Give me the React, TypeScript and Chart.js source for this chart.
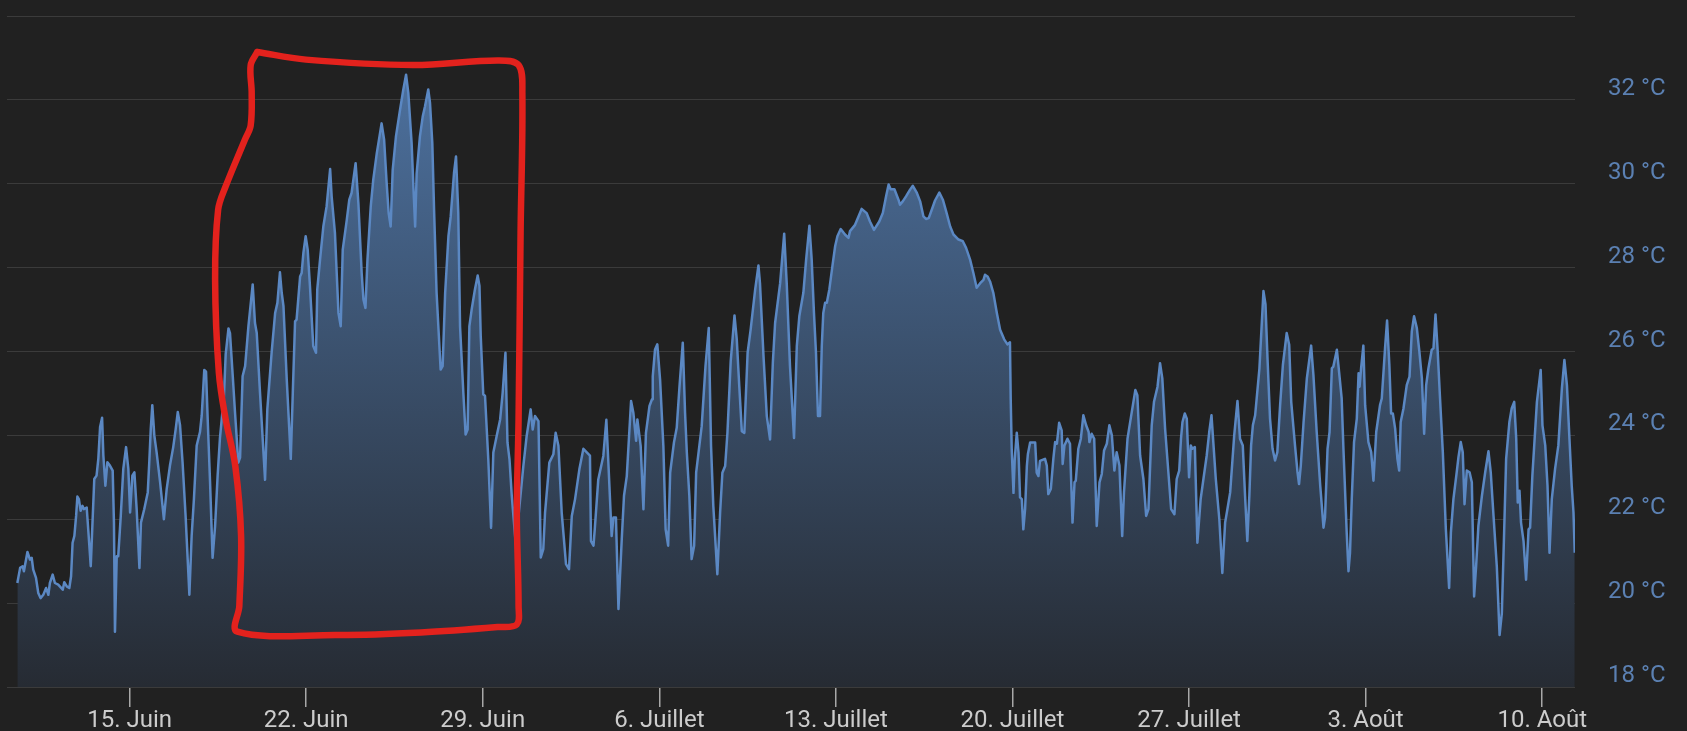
import React, { useEffect, useRef } from "react";
import { Chart, registerables } from "chart.js";

Chart.register(...registerables);

// x = day counted from 1 June (15 = 15 June, 36 = 6 July, 64 = 3 August)
const dayValues = [
  10.55, 10.66, 10.76, 10.81, 10.95, 11.05, 11.12, 11.18, 11.29, 11.38, 11.47, 11.58, 11.69, 11.78, 11.84, 11.95,
  12.04, 12.17, 12.35, 12.41, 12.51, 12.61, 12.68, 12.74, 12.81, 12.88, 12.93, 12.99, 13.06, 13.13, 13.19, 13.3,
  13.36, 13.46, 13.54, 13.6, 13.69, 13.76, 13.83, 13.91, 13.96, 14.04, 14.12, 14.22, 14.33, 14.38, 14.42, 14.49,
  14.55, 14.65, 14.75, 14.86, 14.95, 15.02, 15.11, 15.19, 15.28, 15.39, 15.45, 15.58, 15.72, 15.78, 15.84, 15.9,
  15.98, 16.07, 16.21, 16.36, 16.47, 16.6, 16.73, 16.83, 16.91, 17.0, 17.1, 17.22, 17.37, 17.46, 17.55, 17.66,
  17.79, 17.86, 17.96, 18.03, 18.1, 18.19, 18.29, 18.39, 18.49, 18.58, 18.74, 18.81, 18.92,
  18.98, 19.09, 19.18, 19.31, 19.38, 19.48, 19.58, 19.71, 19.88, 19.97, 20.04, 20.17, 20.37, 20.46, 20.63, 20.77,
  20.86, 20.96, 21.03, 21.1, 21.23, 21.39, 21.47, 21.56, 21.62, 21.76, 21.82, 21.89, 21.98, 22.06, 22.15, 22.28,
  22.39, 22.44, 22.55, 22.68, 22.81, 22.95, 23.01, 23.14, 23.28, 23.37, 23.45, 23.61, 23.71, 23.8, 23.96, 24.07,
  24.2, 24.27, 24.35, 24.43, 24.56, 24.66, 24.8, 24.99, 25.09, 25.19, 25.27, 25.35, 25.43, 25.56, 25.72, 25.85,
  25.96, 26.05, 26.18, 26.25, 26.32, 26.38, 26.51, 26.62, 26.71, 26.84, 26.91, 27.0, 27.07, 27.17, 27.33, 27.41,
  27.51, 27.64, 27.73, 27.86, 27.94, 28.03, 28.1, 28.23, 28.32, 28.4, 28.47, 28.56, 28.69, 28.8, 28.87, 28.92,
  29.02, 29.09, 29.22, 29.33, 29.42, 29.55, 29.69, 29.79, 29.9, 29.98, 30.06, 30.15, 30.31,
  30.61, 30.74, 30.9, 30.98, 31.07, 31.21, 31.3, 31.4, 31.47, 31.64, 31.8, 31.89, 32.0, 32.13, 32.3, 32.42,
  32.53, 32.66, 32.83, 32.99, 33.25, 33.29, 33.39, 33.44, 33.58, 33.78, 33.9, 33.98, 34.11, 34.18, 34.28, 34.38,
  34.51, 34.6, 34.71, 34.88, 34.97, 35.08, 35.13, 35.26, 35.37, 35.47, 35.61, 35.71, 35.74, 35.83, 35.92, 36.03,
  36.16, 36.25, 36.35, 36.43, 36.58, 36.69, 36.8, 36.93, 37.02, 37.09, 37.19, 37.28, 37.38, 37.46, 37.68, 37.83,
  37.96, 38.05, 38.14, 38.3, 38.41, 38.5, 38.61, 38.7, 38.83, 38.98, 39.07, 39.17, 39.27, 39.37, 39.5, 39.62,
  39.8, 39.93, 39.99, 40.13, 40.26, 40.39, 40.5, 40.59, 40.79, 40.95, 41.05, 41.18, 41.34, 41.45, 41.55, 41.71,
  41.82, 41.95, 42.04, 42.13, 42.21, 42.29,
  42.37, 42.44, 42.5, 42.57, 42.64, 42.74, 42.86, 42.97, 43.06, 43.19, 43.36, 43.5, 43.56, 43.76, 44.02, 44.22,
  44.35, 44.51, 44.72, 44.86, 44.99, 45.09, 45.17, 45.32, 45.48, 45.54, 45.65, 45.78, 45.94, 46.05, 46.21, 46.34,
  46.47, 46.57, 46.68, 46.8, 46.93, 47.1, 47.24, 47.39, 47.53, 47.66, 47.86, 48.03, 48.16, 48.32, 48.45, 48.58,
  48.72, 48.85, 48.91, 49.01, 49.11, 49.24, 49.38, 49.51, 49.67, 49.8, 49.9, 49.93, 49.97, 50.04, 50.09, 50.17,
  50.24, 50.3, 50.37, 50.43, 50.5, 50.57, 50.61, 50.7, 50.9, 50.96, 51.03, 51.09,
  51.29, 51.36, 51.42, 51.52, 51.62, 51.69, 51.76, 51.85, 51.95, 51.99, 52.06, 52.18, 52.28, 52.38, 52.46, 52.51,
  52.61, 52.71, 52.81, 52.92, 53.02, 53.05, 53.14, 53.24, 53.34, 53.45, 53.54, 53.63, 53.74, 53.84, 53.94, 54.04,
  54.13, 54.24, 54.35, 54.42, 54.56, 54.73, 54.87, 54.95, 55.06, 55.19, 55.3, 55.39, 55.52, 55.61, 55.75, 55.85,
  55.94, 56.05, 56.18, 56.29, 56.42, 56.51, 56.61, 56.68, 56.74, 56.83, 56.91, 57.0, 57.07, 57.13, 57.23, 57.33,
  57.46, 57.57, 57.7, 57.8, 57.89, 57.97, 58.06, 58.2, 58.32, 58.43, 58.52, 58.63, 58.79, 58.92, 59.02, 59.13,
  59.22, 59.31, 59.39, 59.46, 59.53, 59.62, 59.79, 59.95, 60.03, 60.11, 60.21, 60.31, 60.41, 60.5, 60.61, 60.72,
  60.87, 60.97, 61.05, 61.2, 61.3, 61.36, 61.43, 61.54, 61.67,
  61.84, 61.93, 62.06, 62.2, 62.33, 62.39, 62.49, 62.57, 62.66, 62.72, 62.86, 62.92, 63.05, 63.12, 63.25, 63.32,
  63.38, 63.45, 63.54, 63.65, 63.72, 63.76, 63.82, 63.91, 63.98, 64.11, 64.22, 64.31, 64.42, 64.57, 64.64, 64.77,
  64.85, 64.94, 65.01, 65.08, 65.17, 65.26, 65.33, 65.39, 65.5, 65.63, 65.74, 65.83, 65.92, 66.03, 66.13, 66.23,
  66.32, 66.4, 66.49, 66.62, 66.69, 66.77, 66.85, 66.95, 67.06, 67.18, 67.31, 67.38, 67.48, 67.61, 67.68, 67.77,
  67.85, 67.92, 68.01, 68.12, 68.21, 68.3, 68.38, 68.47, 68.61, 68.74, 68.87, 68.96, 69.07, 69.2, 69.31, 69.4,
  69.49, 69.57, 69.7, 69.79, 69.89, 69.97, 70.03, 70.1, 70.16, 70.26, 70.36, 70.46, 70.52, 70.61, 70.79, 70.94,
  71.01, 71.12, 71.21, 71.29, 71.38, 71.51, 71.64, 71.78, 71.88, 71.98, 72.08, 72.17, 72.24, 72.29,
];

// temperature in °C, one value per entry of dayValues
const tempValues = [
  20.48, 20.84, 20.88, 20.76, 21.22, 21.04, 21.08, 20.8, 20.6, 20.24, 20.12, 20.2, 20.36, 20.2, 20.48, 20.68,
  20.48, 20.44, 20.32, 20.5, 20.4, 20.36, 20.64, 21.44, 21.6, 22.08, 22.54, 22.48, 22.2, 22.32, 22.24, 22.28,
  21.76, 20.88, 22.08, 22.96, 23.04, 23.44, 24.2, 24.42, 23.52, 22.8, 23.36, 23.28, 23.16, 21.92, 19.32, 21.12,
  21.12, 22.08, 23.2, 23.72, 23.2, 22.16, 23.04, 23.12, 22.24, 20.84, 21.92, 22.24, 22.64, 23.36, 24.16, 24.72,
  24.0, 23.6, 22.88, 22.0, 22.72, 23.28, 23.72, 24.16, 24.56, 24.24, 23.36, 22.08, 20.2, 21.6, 22.48, 23.76,
  24.08, 24.48, 25.56, 25.52, 24.32, 22.88, 21.08, 21.84, 23.04, 23.92, 24.94, 25.94, 26.55,
  26.44, 25.41, 24.54, 23.35, 23.47, 25.41, 25.65, 26.6, 27.6, 26.68, 26.44, 25.02, 22.94, 24.62, 25.97, 26.92,
  27.16, 27.89, 27.4, 27.08, 25.33, 23.44, 25.02, 26.72, 26.76, 27.79, 27.87, 28.35, 28.75, 28.43, 27.56, 26.13,
  25.97, 27.48, 28.19, 28.98, 29.46, 30.35, 29.7, 28.83, 26.92, 26.6, 28.43, 29.14, 29.62, 29.78, 30.49, 29.54,
  27.87, 27.24, 27.04, 28.19, 29.46, 30.1, 30.73, 31.44, 31.05, 30.02, 29.3, 28.98, 30.33, 31.13, 31.76, 32.24,
  32.6, 32.16, 30.97, 29.94, 28.98, 30.25, 31.13, 31.6, 31.84, 32.25, 31.92, 30.97, 29.38, 27.4, 25.57, 25.65,
  27.4, 28.75, 29.22, 30.25, 30.65, 29.3, 26.6, 25.02, 24.02, 24.14, 26.6, 27.0, 27.48, 27.81, 27.56, 26.37,
  24.98, 24.94, 23.43, 21.8, 23.59, 23.98, 24.38, 25.02, 25.97, 23.83, 23.43, 22.56, 21.4,
  23.27, 23.98, 24.62, 24.14, 24.46, 24.34, 21.09, 21.29, 22.16, 23.35, 23.55, 24.06, 23.75, 22.16, 20.93, 20.81,
  22.08, 22.48, 23.19, 23.68, 23.52, 21.48, 21.37, 21.76, 22.95, 23.51, 24.37, 23.35, 21.6, 22.04, 22.04, 19.86,
  21.52, 22.56, 23.03, 24.82, 24.54, 23.87, 24.38, 23.75, 22.24, 24.06, 24.7, 24.86, 25.41, 26.05, 26.17, 25.33,
  23.75, 21.76, 21.37, 23.11, 23.83, 24.18, 25.17, 26.21, 24.54, 23.59, 22.56, 21.05, 21.37, 23.11, 24.22, 25.65,
  26.56, 23.75, 22.32, 20.69, 22.16, 23.11, 23.27, 24.06, 25.77, 26.86, 26.29, 25.17, 24.1, 24.06, 25.97, 26.52,
  27.48, 28.05, 27.63, 25.89, 24.46, 23.9, 25.73, 26.68, 27.63, 28.81, 27.63, 25.65, 23.94, 26.13, 26.84, 27.4,
  28.19, 29.0, 28.19, 26.92, 25.97, 24.46,
  24.46, 26.13, 26.92, 27.16, 27.16, 27.48, 28.03, 28.51, 28.75, 28.92, 28.79, 28.71, 28.87, 29.02, 29.4, 29.3,
  29.1, 28.9, 29.1, 29.3, 29.7, 29.98, 29.87, 29.87, 29.62, 29.5, 29.58, 29.7, 29.86, 29.95, 29.78, 29.58,
  29.22, 29.16, 29.18, 29.38, 29.6, 29.79, 29.62, 29.3, 28.98, 28.79, 28.67, 28.63, 28.47, 28.19, 27.87, 27.52,
  27.63, 27.71, 27.83, 27.79, 27.67, 27.4, 26.92, 26.52, 26.29, 26.17, 26.22, 24.86, 23.67, 22.63, 23.43, 24.06,
  23.59, 22.52, 22.48, 21.76, 22.24, 23.27, 23.55, 23.83, 23.83, 23.11, 23.03, 23.39,
  23.44, 23.28, 22.6, 22.72, 23.44, 23.84, 23.8, 24.3, 24.12, 23.32, 23.76, 23.92, 23.8, 21.92, 22.88, 22.92,
  23.68, 23.92, 24.48, 24.24, 24.08, 23.84, 24.04, 23.92, 21.84, 22.88, 23.08, 23.64, 23.8, 24.24, 24.0, 23.16,
  23.6, 23.28, 21.6, 22.64, 23.92, 24.56, 25.08, 24.96, 23.52, 22.96, 22.08, 22.24, 24.24, 24.8, 25.16, 25.72,
  25.36, 24.16, 23.12, 22.24, 22.12, 22.96, 23.16, 23.92, 24.32, 24.52, 24.4, 23.0, 23.76, 23.68, 23.72, 21.44,
  22.48, 22.96, 23.52, 24.08, 24.48, 23.76, 22.96, 22.0, 20.72, 21.92, 22.24, 22.64, 24.0, 24.82, 23.92, 23.76,
  22.56, 21.48, 22.56, 23.76, 24.24, 24.48, 25.6, 27.44, 27.12, 25.84, 24.4, 23.68, 23.4, 23.6, 24.72, 25.68,
  26.44, 26.16, 24.8, 23.76, 23.12, 22.84, 23.28, 24.32, 25.36,
  26.14, 25.44, 24.08, 22.8, 21.8, 22.04, 23.68, 24.08, 25.6, 25.64, 26.04, 25.68, 24.88, 23.68, 21.68, 20.76,
  21.2, 22.48, 23.84, 24.4, 25.48, 25.16, 25.6, 26.14, 24.72, 23.84, 23.6, 22.92, 24.08, 24.72, 24.88, 26.08,
  26.74, 25.68, 24.52, 24.52, 24.16, 23.44, 23.16, 24.32, 24.64, 25.2, 25.4, 26.48, 26.84, 26.56, 26.0, 25.36,
  24.04, 25.2, 25.6, 26.04, 26.08, 26.88, 26.08, 24.88, 23.6, 21.76, 20.36, 21.68, 22.48, 23.12, 23.48, 23.84,
  23.6, 22.36, 23.16, 23.12, 22.88, 20.16, 20.88, 21.84, 22.56, 23.12, 23.62, 23.12, 22.08, 20.88, 19.24, 19.76,
  21.68, 23.44, 24.32, 24.64, 24.8, 23.92, 22.4, 22.68, 21.92, 21.48, 20.56, 21.76, 21.8, 23.04, 24.8, 25.56,
  24.24, 23.76, 22.8, 21.2, 22.48, 23.2, 23.76, 25.12, 25.8, 25.2, 23.92, 22.8, 22.16, 21.2,
];

const tickDays = [15, 22, 29, 36, 43, 50, 57, 64, 71];
const tickLabels = [
  "15. Juin",
  "22. Juin",
  "29. Juin",
  "6. Juillet",
  "13. Juillet",
  "20. Juillet",
  "27. Juillet",
  "3. Août",
  "10. Août",
];
const yMin = 18;
const yMax = 34;
const yStep = 2;
const xMin = 10.14;
const xMax = 72.3;

// hand-drawn red outline, in the same day / °C units as the data
const outlineDays = [
  20.06, 21.99, 26.24, 29.59, 30.42, 30.57, 30.5, 30.42, 30.35, 30.42, 30.35, 29.59, 26.55, 23.21, 19.27, 19.35,
  19.42, 19.19, 18.81, 18.54, 18.39, 18.51, 18.81, 19.57, 19.8, 19.84, 19.8, 20.06,
];
const outlineTemps = [
  33.14, 32.96, 32.83, 32.94, 32.83, 32.17, 28.83, 24.38, 22.16, 19.93, 19.49, 19.43, 19.3, 19.24, 19.32, 19.93,
  21.6, 23.27, 24.38, 25.49, 27.72, 29.38, 29.94, 31.05, 31.39, 32.17, 32.83, 33.14,
];

export default function App() {
  const canvasRef = useRef<HTMLCanvasElement | null>(null);

  useEffect(() => {
    const canvas = canvasRef.current;
    if (!canvas) return;

    const series = dayValues.map((d, i) => ({ x: d, y: tempValues[i] }));
    const outline = outlineDays.map((d, i) => ({ x: d, y: outlineTemps[i] }));

    const chart = new Chart(canvas, {
      type: "line",
      data: {
        datasets: [
          {
            data: outline,
            borderColor: "#e3221d",
            borderWidth: 6.5,
            tension: 0.35,
            pointRadius: 0,
            fill: false,
            borderCapStyle: "round",
            borderJoinStyle: "round",
            order: 0,
          } as any,
          {
            data: series,
            borderColor: "#5b88c3",
            borderWidth: 2.5,
            tension: 0,
            pointRadius: 0,
            borderJoinStyle: "round",
            fill: "start",
            order: 1,
            backgroundColor: (ctx: any) => {
              const { chart: c } = ctx;
              const area = c.chartArea;
              if (!area) return "rgba(0,0,0,0)";
              const g = c.ctx.createLinearGradient(0, area.top, 0, area.bottom);
              g.addColorStop(0, "#5077a8");
              g.addColorStop(1, "#262b33");
              return g;
            },
          } as any,
        ],
      },
      options: {
        animation: false,
        responsive: true,
        maintainAspectRatio: false,
        events: [],
        layout: { padding: { left: 7, top: 16, right: 0, bottom: 0 } },
        plugins: { legend: { display: false }, tooltip: { enabled: false } },
        scales: {
          x: {
            type: "linear",
            min: xMin,
            max: xMax,
            afterBuildTicks: (scale: any) => {
              scale.ticks = tickDays.map((v) => ({ value: v }));
            },
            afterFit: (scale: any) => {
              scale.height = 44;
              scale.paddingLeft = 0;
              scale.paddingRight = 0;
            },
            ticks: {
              autoSkip: false,
              maxRotation: 0,
              minRotation: 0,
              padding: 0,
              color: "#cccccc",
              font: { family: "Roboto", size: 24 },
              callback: (v: any) => {
                const i = tickDays.indexOf(Number(v));
                return i >= 0 ? tickLabels[i] : "";
              },
            },
            grid: {
              drawOnChartArea: false,
              drawTicks: true,
              tickLength: 20,
              tickColor: "#a8a8a8",
              lineWidth: 1.5,
            },
            border: { display: false },
          },
          y: {
            position: "right",
            min: yMin,
            max: yMax,
            afterFit: (scale: any) => {
              scale.width = 112;
              scale.paddingTop = 0;
              scale.paddingBottom = 0;
            },
            ticks: {
              stepSize: yStep,
              padding: 33,
              labelOffset: -11,
              color: "#5b80b2",
              font: { family: "Roboto", size: 24 },
              callback: (v: any) => (Number(v) === yMax ? "" : `${v} °C`),
            },
            grid: { color: "#3b3b3b", lineWidth: 1, drawTicks: false },
            border: { display: false },
          },
        },
      },
    });

    return () => chart.destroy();
  }, []);

  return (
    <div
      style={{
        position: "fixed",
        left: 0,
        top: 0,
        width: 1687,
        height: 731,
        background: "#212121",
      }}
    >
      <canvas ref={canvasRef} />
    </div>
  );
}
